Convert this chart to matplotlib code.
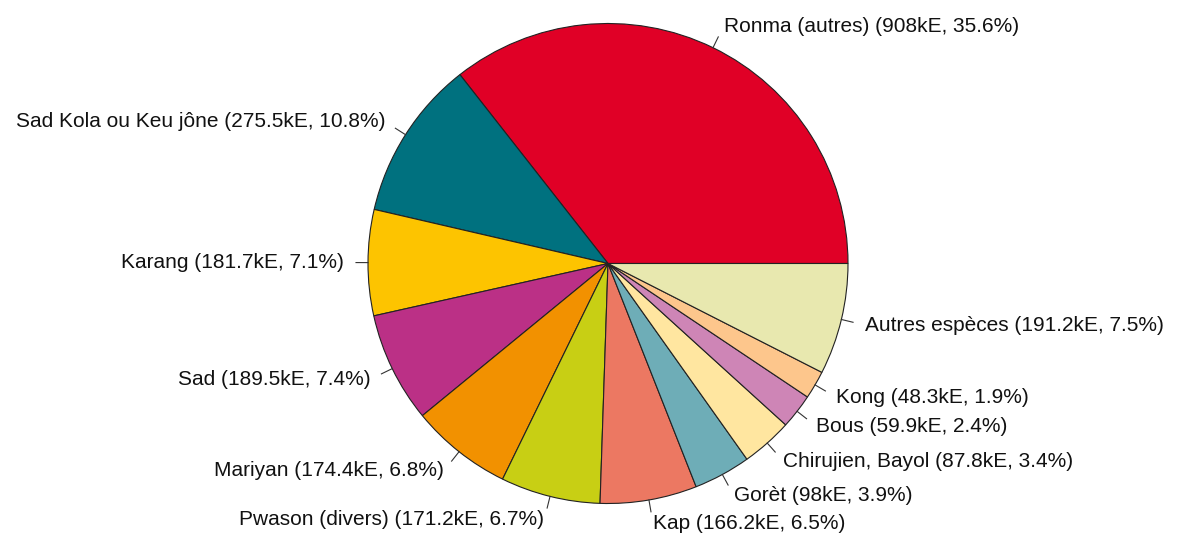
import numpy as np
import matplotlib.pyplot as plt

plt.rcParams['font.family'] = ['Liberation Sans', 'DejaVu Sans']

# slice data, counterclockwise from east (R pie order)
names = ['Ronma (autres)', 'Sad Kola ou Keu jône', 'Karang', 'Sad', 'Mariyan',
         'Pwason (divers)', 'Kap', 'Gorèt', 'Chirujien, Bayol', 'Bous', 'Kong',
         'Autres espèces']
values = [908, 275.5, 181.7, 189.5, 174.4, 171.2, 166.2, 98, 87.8, 59.9, 48.3, 191.2]
val_txt = ['908', '275.5', '181.7', '189.5', '174.4', '171.2', '166.2', '98',
           '87.8', '59.9', '48.3', '191.2']
pct_txt = ['35.6', '10.8', '7.1', '7.4', '6.8', '6.7', '6.5', '3.9', '3.4',
           '2.4', '1.9', '7.5']
colors = ['#E00026', '#00717F', '#FDC400', '#BB3086', '#F29100', '#C8CF14',
          '#EC7862', '#6EADB7', '#FFE6A0', '#CE85B6', '#FDC68C', '#E8E8AF']

W, H = 1177, 533
fig = plt.figure(figsize=(W / 100, H / 100), dpi=100)
ax = fig.add_axes([0, 0, 1, 1])

cx, cy, r = 608, 269.5, 240
wedges, _ = ax.pie(values, colors=colors, startangle=0, counterclock=True,
                   radius=r, center=(cx, cy), frame=True,
                   wedgeprops=dict(edgecolor='#222222', linewidth=0.8))
ax.set_xlim(0, W)
ax.set_ylim(0, H)
ax.set_aspect('equal')
ax.axis('off')

for w, n, v, p in zip(wedges, names, val_txt, pct_txt):
    a = np.deg2rad((w.theta1 + w.theta2) / 2)
    c, s = np.cos(a), np.sin(a)
    ax.plot([cx + r * c, cx + 1.05 * r * c], [cy + r * s, cy + 1.05 * r * s],
            color='#333333', lw=0.8)
    ax.text(cx + 1.1 * r * c, cy + 1.1 * r * s, f'{n} ({v}kE, {p}%)',
            ha='left' if c > 0 else 'right', va='center', fontsize=15,
            color='#111111')

fig.savefig('out.png', dpi=100)
